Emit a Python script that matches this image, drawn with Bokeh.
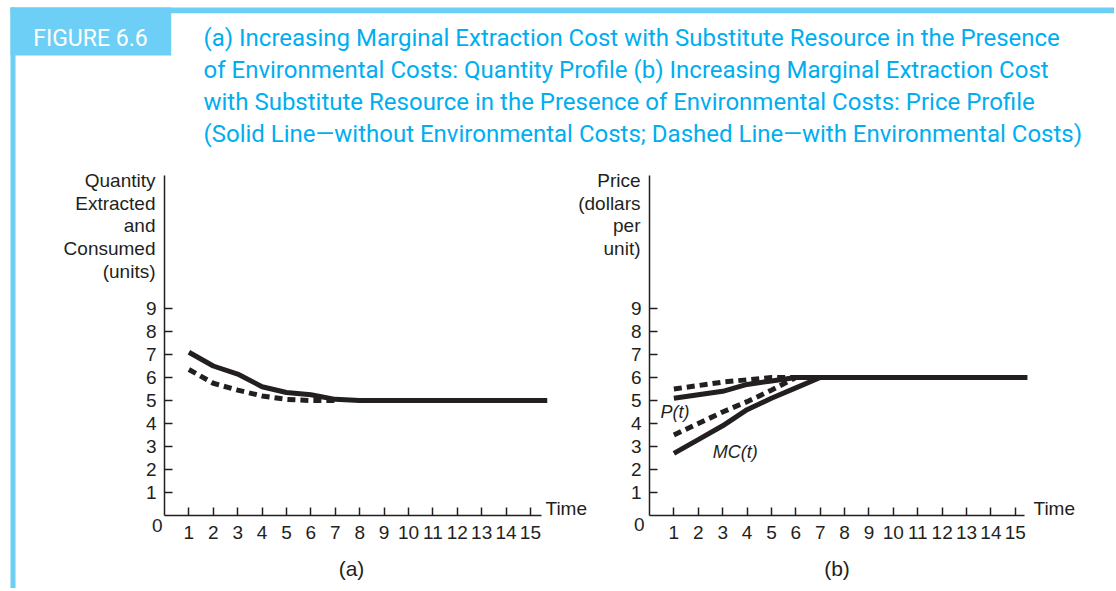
from bokeh.plotting import figure
from bokeh.models import Range1d, FixedTicker, Label
from bokeh.layouts import row, column
from bokeh.embed import file_html
from bokeh.resources import INLINE

# ---------------- data ----------------
time = [1, 2, 3, 4, 5, 6, 7, 8, 9, 10, 11, 12, 13, 14, 15]
horizon_a = 15.7
horizon_b = 15.5
# panel (a): quantity extracted and consumed
qty_without_env = [7.1, 6.5, 6.15, 5.6, 5.35, 5.25, 5.05, 5, 5, 5, 5, 5, 5, 5, 5]
qty_with_env = [6.35, 5.75, 5.45, 5.2, 5.05, 5.0, 5.0]
# panel (b): price and marginal cost
price_without_env = [5.1, 5.25, 5.4, 5.7, 5.85, 6, 6, 6, 6, 6, 6, 6, 6, 6, 6]
mc_without_env = [2.7, 3.3, 3.9, 4.6, 5.1, 5.55, 6, 6, 6, 6, 6, 6, 6, 6, 6]
price_with_env = [5.5, 5.65, 5.8, 5.9, 6.0, 6.0]
mc_with_env = [3.5, 4.0, 4.5, 4.95, 5.45, 6.0]

x_ticks = time
y_ticks = [1, 2, 3, 4, 5, 6, 7, 8, 9]
title_lines = [
    "(a) Increasing Marginal Extraction Cost with Substitute Resource in the Presence",
    "of Environmental Costs: Quantity Profile (b) Increasing Marginal Extraction Cost",
    "with Substitute Resource in the Presence of Environmental Costs: Price Profile",
    "(Solid Line\u2014without Environmental Costs; Dashed Line\u2014with Environmental Costs)",
]
ylabel_a = ["Quantity", "Extracted", "and", "Consumed", "(units)"]
ylabel_b = ["Price", "(dollars", "per", "unit)"]

# ---------------- style ----------------
BLUE = "#6DCFF6"
CYAN = "#00AEEF"
INK = "#231F20"
FONT = "Liberation Sans"
TFONT = "Roboto"
LW = 5
DASH = "8 5"
PX_PER_Y = 23
W, H = 1114, 588
PANEL_TOP = 155


def txt(fig, x, y, s, size="19px", align="left", font=FONT, color=INK, style="normal"):
    fig.add_layout(Label(x=x, y=y, text=s, text_font=font, text_font_size=size,
                         text_color=color, text_align=align, text_baseline="middle",
                         text_font_style=style))


# ---------------- background canvas (frame, titles, axis captions) ----------------
bg = figure(width=W, height=H, x_range=Range1d(0, W), y_range=Range1d(H, 0),
            output_backend="svg", toolbar_location=None, min_border=0)
bg.axis.visible = False
bg.grid.visible = False
bg.outline_line_color = None
bg.background_fill_alpha = 0
bg.border_fill_alpha = 0
bg.quad(left=[10], right=[W], top=[7], bottom=[12.7], color=BLUE, line_color=None)
bg.quad(left=[10], right=[170.7], top=[7], bottom=[55], color=BLUE, line_color=None)
bg.quad(left=[10], right=[15], top=[7], bottom=[H], color=BLUE, line_color=None)
txt(bg, 32.7, 37.5, "FIGURE 6.6", size="23px", font=TFONT, color="white")
for i, line in enumerate(title_lines):
    txt(bg, 203, 37.5 + 32 * i, line, size="24px", font=TFONT, color=CYAN)
for i, line in enumerate(ylabel_a):
    txt(bg, 155, 180 + 22.7 * i, line, align="right")
for i, line in enumerate(ylabel_b):
    txt(bg, 640, 180 + 22.7 * i, line, align="right")
txt(bg, 162, 525, "0", align="right")
txt(bg, 644, 524, "0", align="right")
txt(bg, 545, 508, "Time")
txt(bg, 1033, 508, "Time")
txt(bg, 351, 568, "(a)", size="21px", align="center")
txt(bg, 836.5, 568, "(b)", size="21px", align="center")


def panel(width, left, right, xend, axis_end):
    yend = 340 / PX_PER_Y
    p = figure(width=width, height=425, x_range=Range1d(0, xend), y_range=Range1d(0, yend),
               output_backend="svg", toolbar_location=None,
               min_border_left=left, min_border_right=right, min_border_top=175 - PANEL_TOP,
               min_border_bottom=425 - 340 - (175 - PANEL_TOP))
    p.grid.visible = False
    p.outline_line_color = None
    p.background_fill_alpha = 0
    p.border_fill_alpha = 0
    for ax in (p.xaxis[0], p.yaxis[0]):
        ax.axis_line_color = INK
        ax.axis_line_width = 1.5
        ax.major_tick_line_color = INK
        ax.major_tick_line_width = 1.5
        ax.major_tick_in = 8
        ax.major_tick_out = 0
        ax.minor_tick_line_color = None
        ax.major_label_text_font = FONT
        ax.major_label_text_font_size = "19px"
        ax.major_label_text_color = INK
    p.xaxis.ticker = FixedTicker(ticks=x_ticks)
    p.yaxis.ticker = FixedTicker(ticks=y_ticks)
    p.xaxis.bounds = (0, axis_end)
    p.xaxis.major_label_standoff = 10
    p.yaxis.major_label_standoff = 8
    return p


pa = panel(600, 164, 53, horizon_a, 15.47)
pa.line(time + [horizon_a], qty_without_env + [qty_without_env[-1]], line_color=INK,
        line_width=LW, line_join="round")
pa.line(time[:len(qty_with_env)], qty_with_env, line_color=INK, line_width=LW,
        line_dash=DASH, line_cap="butt")

pb = panel(548, 89, 81, horizon_b, 15.36)
pb.margin = (0, 0, 0, -40)
pb.line(time[:len(price_with_env)], price_with_env, line_color=INK, line_width=LW,
        line_dash=DASH, line_cap="butt")
pb.line(time[:len(mc_with_env)], mc_with_env, line_color=INK, line_width=LW,
        line_dash=DASH, line_cap="butt")
pb.line(time + [horizon_b], price_without_env + [price_without_env[-1]], line_color=INK,
        line_width=LW, line_join="round")
pb.line(time + [horizon_b], mc_without_env + [mc_without_env[-1]], line_color=INK,
        line_width=LW, line_join="round")
txt(pb, 0.45, 4.52, "P(t)", size="18px", style="italic")
txt(pb, 2.59, 2.78, "MC(t)", size="18px", style="italic")

panels = row(pa, pb)
panels.margin = (PANEL_TOP - H, 0, 0, 0)
layout = column(bg, panels)
open("out.html", "w").write(file_html(layout, INLINE, title="Figure 6.6"))
